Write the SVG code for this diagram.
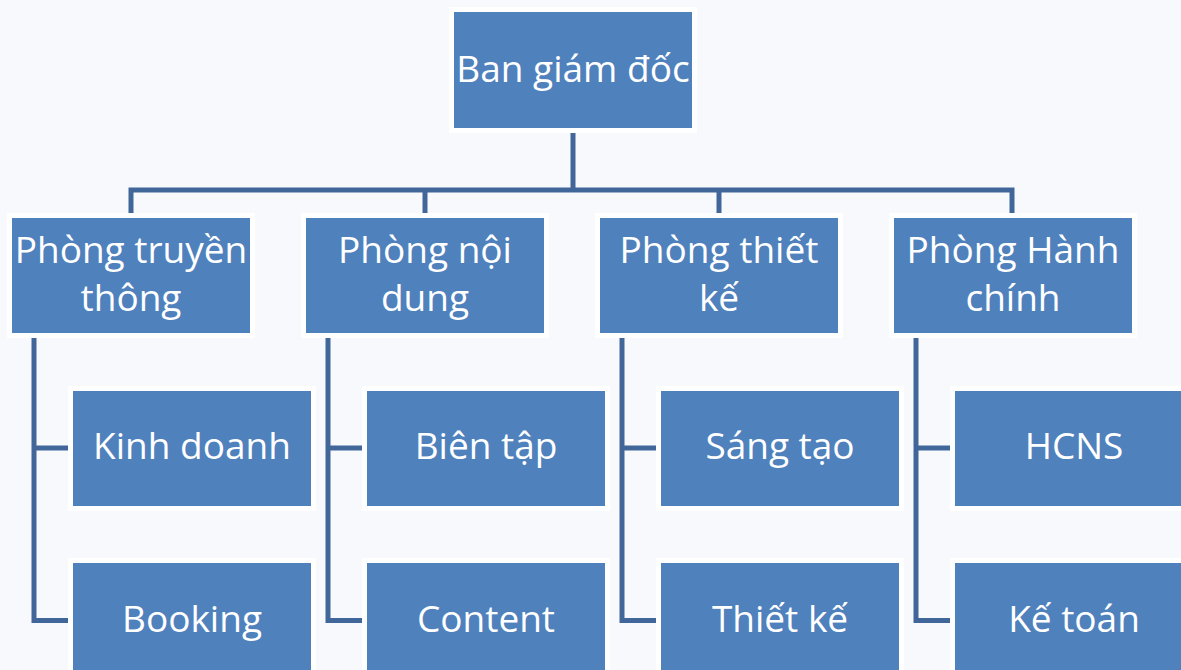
<svg xmlns="http://www.w3.org/2000/svg" width="1181" height="670" viewBox="0 0 1181 670">
<style>
.box{fill:#4F81BD;stroke:#FFFFFF;stroke-width:5}
.t{fill:#FFFFFF;font-family:"Open Sans","Noto Sans","Liberation Sans",sans-serif;font-size:37px;text-anchor:middle}
.c{fill:none;stroke:#41679A;stroke-width:5;stroke-linejoin:miter}
</style>
<rect width="1181" height="670" fill="#F8F9FC"/>
<g id="connectors">
<path class="c" d="M573,130 V190 M128.5,190 H1014.5 M131,190 V216 M425,190 V216 M719,190 V216 M1012,190 V216"/>
<path class="c" d="M34,336 V620.5 H74 M34,448 H74"/>
<path class="c" d="M328,336 V620.5 H368 M328,448 H368"/>
<path class="c" d="M622,336 V620.5 H662 M622,448 H662"/>
<path class="c" d="M916,336 V620.5 H956 M916,448 H956"/>
</g>
<g id="n0"><rect class="box" x="451.5" y="9.5" width="243" height="121"/><text class="t" x="573" y="82">Ban giám đốc</text></g>
<g id="n1"><rect class="box" x="9.5" y="215.5" width="243" height="120"/><text class="t" x="131" y="263">Phòng truyền</text><text class="t" x="131" y="311">thông</text></g>
<g id="n2"><rect class="box" x="303.5" y="215.5" width="243" height="120"/><text class="t" x="425" y="263">Phòng nội</text><text class="t" x="425" y="311">dung</text></g>
<g id="n3"><rect class="box" x="597.5" y="215.5" width="243" height="120"/><text class="t" x="719" y="263">Phòng thiết</text><text class="t" x="719" y="311">kế</text></g>
<g id="n4"><rect class="box" x="891.5" y="215.5" width="243" height="120"/><text class="t" x="1013" y="263">Phòng Hành</text><text class="t" x="1013" y="311">chính</text></g>
<g id="n1a"><rect class="box" x="70.5" y="388.5" width="243" height="120"/><text class="t" x="192" y="459">Kinh doanh</text></g>
<g id="n1b"><rect class="box" x="70.5" y="560.5" width="243" height="120"/><text class="t" x="192" y="632">Booking</text></g>
<g id="n2a"><rect class="box" x="364.5" y="388.5" width="243" height="120"/><text class="t" x="486" y="459">Biên tập</text></g>
<g id="n2b"><rect class="box" x="364.5" y="560.5" width="243" height="120"/><text class="t" x="486" y="632">Content</text></g>
<g id="n3a"><rect class="box" x="658.5" y="388.5" width="243" height="120"/><text class="t" x="780" y="459">Sáng tạo</text></g>
<g id="n3b"><rect class="box" x="658.5" y="560.5" width="243" height="120"/><text class="t" x="780" y="632">Thiết kế</text></g>
<g id="n4a"><rect class="box" x="952.5" y="388.5" width="243" height="120"/><text class="t" x="1074" y="459">HCNS</text></g>
<g id="n4b"><rect class="box" x="952.5" y="560.5" width="243" height="120"/><text class="t" x="1074" y="632">Kế toán</text></g>
</svg>
